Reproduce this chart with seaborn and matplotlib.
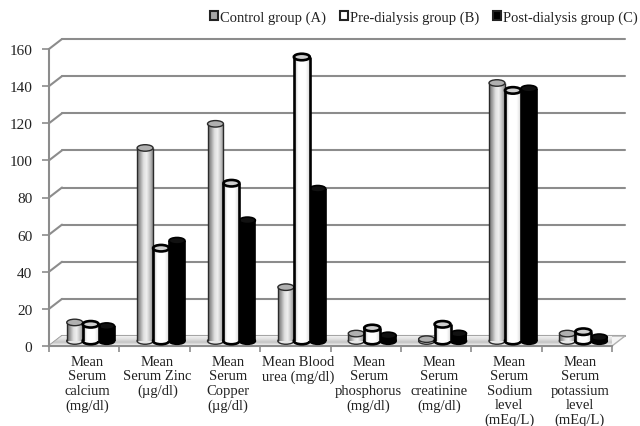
import numpy as np
import pandas as pd
import seaborn as sns
import matplotlib.pyplot as plt
from matplotlib.colors import LinearSegmentedColormap
from matplotlib.patches import Ellipse, Polygon
from matplotlib.transforms import ScaledTranslation

categories = ['Mean\nSerum\ncalcium\n(mg/dl)', 'Mean\nSerum Zinc\n(µg/dl)', 'Mean\nSerum\nCopper\n(µg/dl)',
              'Mean Blood\nurea (mg/dl)', 'Mean\nSerum\nphosphorus\n(mg/dl)', 'Mean\nSerum\ncreatinine\n(mg/dl)',
              'Mean\nSerum\nSodium\nlevel\n(mEq/L)', 'Mean\nSerum\npotassium\nlevel\n(mEq/L)']
groups = ['Control group (A)', 'Pre-dialysis group (B)', 'Post-dialysis group (C)']
control = [10, 104, 117, 29, 4, 1, 139, 4]
pre = [9, 50, 85, 153, 7, 9, 135, 5]
post = [8, 54, 65, 82, 3, 4, 136, 2]
yticks = [0, 20, 40, 60, 80, 100, 120, 140, 160]

sns.set_style('white')
plt.rcParams['font.family'] = ['Liberation Serif', 'DejaVu Serif']
plt.rcParams['font.size'] = 10.5
plt.rcParams['text.color'] = '#222222'

df = pd.DataFrame({
    'category': categories * 3,
    'group': np.repeat(groups, len(categories)),
    'value': control + pre + post,
})

fig = plt.figure(figsize=(6.4, 4.27), dpi=100)
ax = fig.add_axes([49 / 640, 80 / 427, 563 / 640, 297 / 427])
face = {groups[0]: '#a8a8a8', groups[1]: '#ffffff', groups[2]: '#000000'}
sns.barplot(data=df, x='category', y='value', hue='group', hue_order=groups, palette=face,
            width=0.68, gap=0, saturation=1, edgecolor='#222222', linewidth=1.5, errorbar=None, ax=ax)
ax.set_xlim(-0.5, 7.5)
ax.set_ylim(0, 160)
ax.set_xlabel('')
ax.set_ylabel('')

# fake 3d: bars sit half way back, gridlines on the back wall
grey = '#8c8c8c'
mid = ax.transData + ScaledTranslation(0.065, 0.05, fig.dpi_scale_trans)
back = ax.transData + ScaledTranslation(0.13, 0.10, fig.dpi_scale_trans)

for v in yticks:
    ax.plot([-0.5, 7.5], [v, v], color=grey, lw=1.5, transform=back, zorder=1, clip_on=False)
    p0 = ax.transData.transform((-0.5, v))
    ax.plot([p0[0], p0[0] + 13], [p0[1], p0[1] + 10], color=grey, lw=1.5, transform=None, zorder=1, clip_on=False)

# floor, with a soft shadow band under the bars
f0 = ax.transData.transform((-0.5, 0))
f1 = ax.transData.transform((7.5, 0))
floor = Polygon([f0, f1, f1 + [13, 10], f0 + [13, 10]], closed=True, transform=None,
                facecolor='#f4f4f4', edgecolor='#b0b0b0', lw=1.0, zorder=1.5, clip_on=False)
ax.add_patch(floor)
shade = LinearSegmentedColormap.from_list('s', ['#ffffff', '#c4c4c4', '#e2e2e2', '#f6f6f6'])
im = ax.imshow(np.linspace(0, 1, 32).reshape(-1, 1), origin='lower', extent=[-0.5, 7.7, 0, 5.4], aspect='auto',
               cmap=shade, zorder=1.6)
im.set_clip_path(floor)

cyl_a = LinearSegmentedColormap.from_list('a', ['#707070', '#a0a0a0', '#dedede', '#f0f0f0', '#c8c8c8', '#8e8e8e'])
cyl_b = LinearSegmentedColormap.from_list('b', ['#b8b8b8', '#ffffff', '#ffffff', '#ffffff', '#d8d8d8'])
cyl_c = LinearSegmentedColormap.from_list('c', ['#000000', '#000000'])
styles = [(cyl_a, '#2a2a2a', 1.0, '#b0b0b0', 3.2),
          (cyl_b, '#000000', 1.9, '#cfcfcf', 3.4),
          (cyl_c, '#000000', 1.2, '#111111', 3.0)]
cap = 6.5 / (297 / 160)
ramp = np.linspace(0, 1, 64).reshape(1, -1)

n = len(categories)
bars = list(ax.patches)[:3 * n]
for i, bar in enumerate(bars):
    cmap, edge, lw, top, z = styles[i // n]
    x, w, h = bar.get_x(), bar.get_width(), bar.get_height()
    bar.set_visible(False)
    ax.add_patch(Ellipse((x + w / 2, 0), w, cap, facecolor=cmap(0.5), edgecolor=edge, lw=lw,
                         transform=mid, zorder=z, clip_on=False))
    ax.imshow(ramp, extent=[x, x + w, 0, h], aspect='auto', cmap=cmap, transform=mid, zorder=z + 0.01, clip_on=False)
    ax.vlines([x, x + w], 0, h, color=edge, lw=lw, transform=mid, zorder=z + 0.02, clip_on=False)
    ax.add_patch(Ellipse((x + w / 2, h), w, cap, facecolor=top, edgecolor=edge, lw=lw,
                         transform=mid, zorder=z + 0.03, clip_on=False))

ax.set_xlim(-0.5, 7.5)
ax.set_ylim(0, 160)

sns.despine(ax=ax, top=True, right=True)
for side in ['left', 'bottom']:
    ax.spines[side].set_color(grey)
    ax.spines[side].set_linewidth(1.5)
    ax.spines[side].set_zorder(2)

ax.set_yticks(yticks)
ax.set_xticks(np.arange(-0.5, 8), minor=True)
ax.tick_params(axis='x', which='minor', bottom=True, length=4, width=1.2, color=grey)
ax.tick_params(axis='x', which='major', bottom=False, pad=3)
ax.tick_params(axis='y', left=True, length=5, width=1.2, color=grey, pad=7, labelsize=11, labelcolor='#222222')
ax.set_xticks(range(n))
ax.set_xticklabels(categories, fontsize=10.5, color='#222222', linespacing=1.14)
for label in ax.get_xticklabels():
    label.set_transform(label.get_transform() + ScaledTranslation(0.03, 0, fig.dpi_scale_trans))

sns.move_legend(ax, 'center right', bbox_to_anchor=(638 / 640, 1 - 18 / 427), bbox_transform=fig.transFigure,
                ncol=3, frameon=False, title=None, fontsize=10.5, handlelength=0.55, handleheight=0.6,
                handletextpad=0.15, columnspacing=0.95, borderpad=0, borderaxespad=0)

fig.savefig('out.png', dpi=100)
